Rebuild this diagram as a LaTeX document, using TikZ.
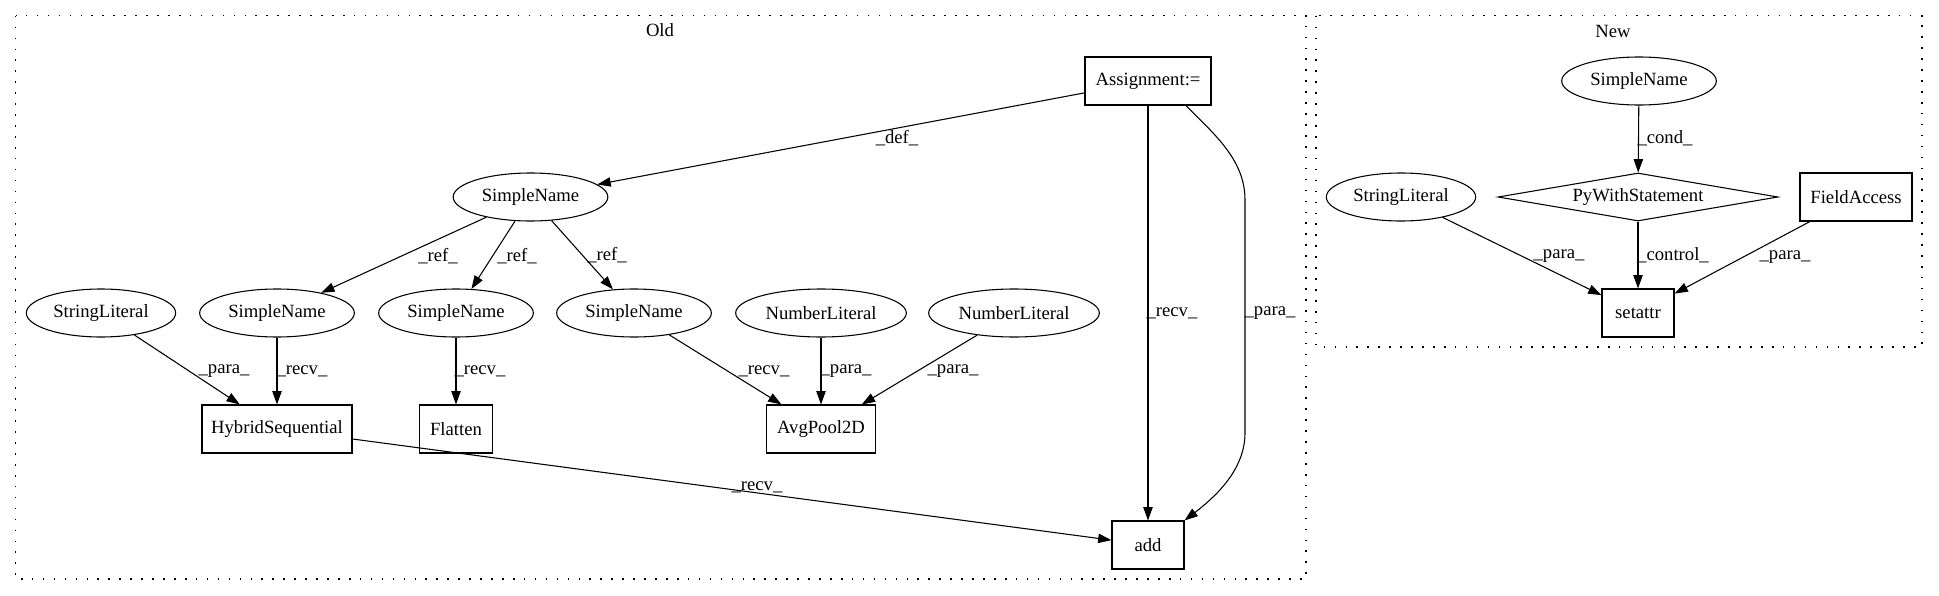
\documentclass[tikz,border=0pt]{standalone}
\usepackage{fontspec}
\setmainfont{Liberation Serif}
\newfontfamily\tmsfont{Liberation Serif}
\usetikzlibrary{shapes.geometric,arrows.meta,calc}
\begin{document}
\begin{tikzpicture}[x=0.75pt,y=-0.75pt,
  every node/.style={font=\tmsfont\fontsize{14pt}{16pt}\selectfont},
  ell/.style={draw, ellipse, inner sep=0pt, minimum height=36pt, line width=0.8pt},
  box/.style={draw, rectangle, inner sep=0pt, minimum height=36pt, line width=0.8pt},
  dia/.style={draw, diamond, aspect=5.8, inner sep=0pt, minimum width=210pt, minimum height=36pt, line width=0.8pt},
  conn/.style={draw, line width=0.8pt, -{Triangle[length=10pt,width=7pt]}},
  elab/.style={inner sep=1pt},
  clus/.style={draw, line width=0.8pt, dash pattern=on 1.2pt off 7pt}]
\useasboundingbox (0,0) rectangle (1939,596);

% clusters
\draw[clus] (15.7,15.7) rectangle (1306,579);
\node (oldlab) at (660,30) {Old};
\draw[clus] (1316,15.7) rectangle (1922,347);
\node (newlab) at (1613,31) {New};

% Old nodes
\node[box, minimum width=94.5pt] (asg) at (1148,81) {Assignment:=};
\node[ell, minimum width=116pt] (sn0) at (530.5,197) {SimpleName};
\node[ell, minimum width=112pt] (sl1) at (101,313) {StringLiteral};
\node[ell, minimum width=116pt] (sn1) at (277,313) {SimpleName};
\node[ell, minimum width=116pt] (sn2) at (456,313) {SimpleName};
\node[ell, minimum width=116pt] (sn3) at (634,313) {SimpleName};
\node[ell, minimum width=128pt] (nl1) at (821,313) {NumberLiteral};
\node[ell, minimum width=128pt] (nl2) at (1014,313) {NumberLiteral};
\node[box, minimum width=112.5pt] (hyb) at (277,429) {HybridSequential};
\node[box, minimum width=55pt] (flat) at (456,429) {Flatten};
\node[box, minimum width=82pt] (avg) at (821,429) {AvgPool2D};
\node[box, minimum width=54pt] (add) at (1148,545) {add};

% New nodes
\node[ell, minimum width=116pt] (nsn) at (1639,81) {SimpleName};
\node[ell, minimum width=112pt] (nsl) at (1401,197) {StringLiteral};
\node[dia] (pyw) at (1638,197) {PyWithStatement};
\node[box, minimum width=84pt] (fa) at (1856,197) {FieldAccess};
\node[box, minimum width=54pt] (set) at (1638,313) {setattr};

% Old edges
\draw[conn] (asg) -- (sn0) node[elab] at (897,138) {\_def\_};
\draw[conn] (sn0) -- (sn1) node[elab] at (438,256) {\_ref\_};
\draw[conn] (sn0) -- (sn2) node[elab] at (517,256) {\_ref\_};
\draw[conn] (sn0) -- (sn3) node[elab] at (607,255) {\_ref\_};
\draw[conn] (sl1) -- (hyb) node[elab] at (224,371) {\_para\_};
\draw[conn] (sn1) -- (hyb) node[elab] at (302,371) {\_recv\_};
\draw[conn] (sn2) -- (flat) node[elab] at (480,371) {\_recv\_};
\draw[conn] (sn3) -- (avg) node[elab] at (764,371) {\_recv\_};
\draw[conn] (nl1) -- (avg) node[elab] at (846,371) {\_para\_};
\draw[conn] (nl2) -- (avg) node[elab] at (953,371) {\_para\_};
\draw[conn] (hyb) -- (add) node[elab] at (757,487) {\_recv\_};
\draw[conn] (asg) -- (add) node[elab] at (1172,313) {\_recv\_};
\coordinate (p1) at (1245,200);
\coordinate (p2) at (1245,433);
\draw[conn] ([xshift=28.5pt]asg.south) .. controls (1215,135) and (1245,160) .. (p1) -- (p2) .. controls (1245,470) and (1215,497) .. (add.north east);
\node[elab] (paralab) at (1270,313) {\_para\_};

% New edges
\draw[conn] (nsn) -- (pyw) node[elab] at (1665,138) {\_cond\_};
\draw[conn] (pyw) -- (set) node[elab] at (1673,255) {\_control\_};
\draw[conn] (nsl) -- (set) node[elab] at (1559,256) {\_para\_};
\draw[conn] (fa) -- (set) node[elab] at (1785,257) {\_para\_};
\end{tikzpicture}
\end{document}
